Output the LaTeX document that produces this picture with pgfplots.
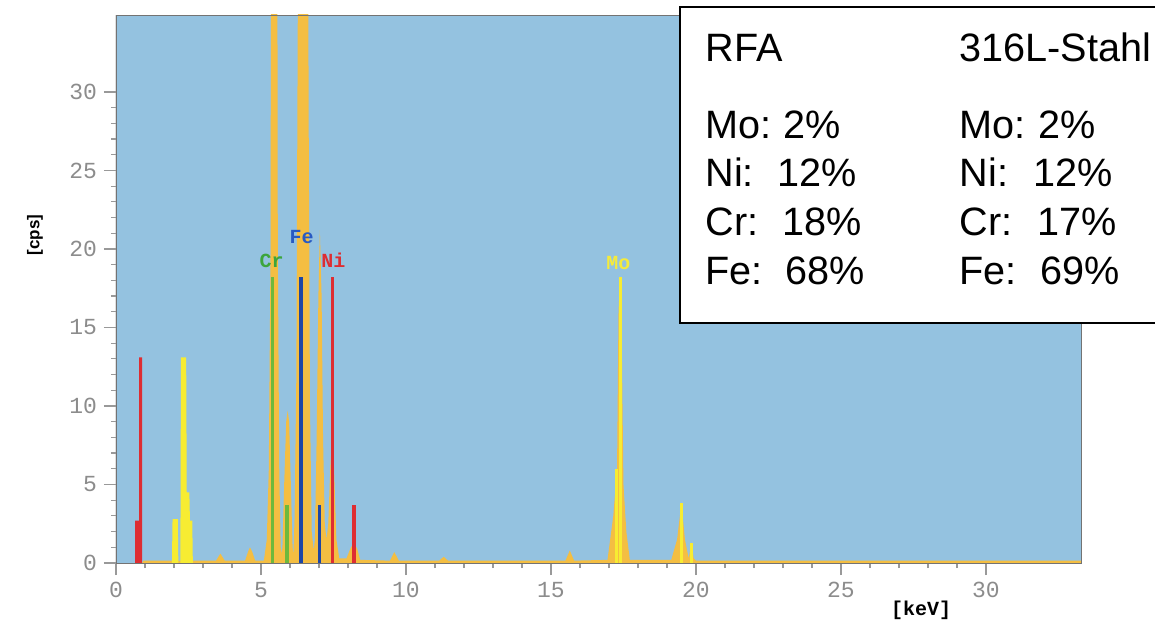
\documentclass[border=0pt]{standalone}
\usepackage{fontspec}
\usepackage{pgfplots}
\pgfplotsset{compat=1.18}
\setmainfont{Liberation Sans}
\newfontfamily\monof{Liberation Mono}

\definecolor{bgblue}{RGB}{148,194,224}
\definecolor{orangeC}{RGB}{244,190,66}
\definecolor{yellowC}{RGB}{247,236,50}
\definecolor{greenC}{RGB}{110,185,60}
\definecolor{blueC}{RGB}{30,70,165}
\definecolor{redC}{RGB}{222,45,50}

\begin{document}
\begin{tikzpicture}
\begin{axis}[
  scale only axis,
  width=482.5pt, height=274pt,
  xmin=0, xmax=33.28, ymin=0, ymax=34.9,
  axis background/.style={fill=bgblue},
  axis line style={draw=black!55},
  axis on top,
  xtick={0,5,...,30}, ytick={0,5,...,30},
  minor x tick num=4, minor y tick num=4,
  xtick pos=bottom, ytick pos=left,
  tick align=outside,
  major tick length=6pt, minor tick length=2.5pt,
  tick style={gray!80, line width=0.6pt},
  tick label style={font=\monof\fontsize{11.5}{12}\selectfont, text=gray!90},
  /pgf/number format/assume math mode=true,
]
% measured spectrum (orange)
\addplot[fill=orangeC, draw=none] coordinates {
(0,0)(0.9,0)(0.95,0.15)
(3.45,0.15)(3.6,0.6)(3.75,0.15)
(4.45,0.15)(4.55,0.7)(4.62,1.0)(4.7,0.7)(4.8,0.15)
(5.1,0.15)(5.2,1.5)(5.27,6)(5.33,20)(5.37,70)(5.54,70)(5.58,20)(5.63,6)(5.68,1.0)(5.71,0.6)
(5.74,1)(5.8,5)(5.87,9)(5.92,9.7)(5.97,9)(6.03,5)(6.09,1)(6.12,0.6)
(6.16,3)(6.22,12)(6.28,40)(6.31,80)(6.6,80)(6.64,30)(6.69,10)(6.75,2)(6.82,0.8)
(6.86,1.5)(6.92,8)(6.98,17)(7.03,21.2)(7.09,17)(7.14,8)(7.2,2.5)(7.26,1.5)
(7.32,2.5)(7.39,6)(7.45,8)(7.52,6)(7.6,1.5)(7.7,0.3)
(7.95,0.3)(8.08,0.9)(8.2,1.3)(8.32,0.9)(8.42,0.2)
(9.45,0.15)(9.6,0.7)(9.75,0.15)
(11.15,0.15)(11.3,0.4)(11.45,0.15)
(15.5,0.15)(15.65,0.8)(15.8,0.15)
(16.95,0.2)(17.15,3)(17.28,6)(17.33,16)(17.38,18)(17.43,16)(17.5,5)(17.6,2)(17.72,0.2)
(19.15,0.2)(19.35,1.5)(19.5,3.8)(19.62,1.5)(19.75,0.3)(19.85,1.3)(19.92,0.3)
(20.0,0.15)(33.28,0.15)(33.28,0)
} \closedcycle;
% Mo L lines
\addplot[fill=yellowC, draw=none] coordinates {
(1.93,0)(1.95,2.8)(2.13,2.8)(2.15,0)(2.22,0)(2.24,13.1)(2.42,13.1)(2.44,4.5)
(2.53,4.5)(2.55,2.7)(2.63,2.7)(2.65,0)
} \closedcycle;
% Ni L lines
\addplot[fill=redC, draw=none] coordinates {
(0.66,0)(0.66,2.7)(0.8,2.7)(0.8,13.1)(0.9,13.1)(0.9,0)
} \closedcycle;
% element K lines
\addplot[ycomb, greenC, line width=1.6pt, mark=none] coordinates {(5.40,18.2)(5.90,3.7)};
\addplot[ycomb, blueC, line width=1.6pt, mark=none] coordinates {(6.38,18.2)(7.01,3.7)};
\addplot[ycomb, redC, line width=1.6pt, mark=none] coordinates {(7.47,18.2)(8.21,3.7)};
\addplot[ycomb, yellowC, line width=1.6pt, mark=none] coordinates {(17.40,18.2)(17.27,6)(19.50,3.8)(19.85,1.3)};
\draw[black, line width=0.8pt] (rel axis cs:0,0) -- (rel axis cs:0,1);
\end{axis}

% 1 px of the reference = 0.5pt, origin at the top left corner of the page
\begin{scope}[shift={(-58pt,281.5pt)},x=0.5pt,y=-0.5pt]
% axis titles
\node[rotate=90, font=\bfseries\fontsize{8.5}{10}\selectfont] at (35,235) {[cps]};
\node[font=\monof\bfseries\fontsize{10}{12}\selectfont] at (921,610) {[keV]};
% element labels
\begin{scope}[every node/.style={font=\monof\bfseries\fontsize{10}{12}\selectfont, inner sep=0pt}]
\node[text={rgb,255:red,60;green,165;blue,60}] at (271.7,261) {Cr};
\node[text={rgb,255:red,40;green,90;blue,195}] at (301.7,236.7) {Fe};
\node[text=redC] at (333.3,260) {Ni};
\node[text={rgb,255:red,245;green,235;blue,60}] at (618.3,263.3) {Mo};
\end{scope}
% result box
\draw[line width=1.1pt, fill=white] (680,7) rectangle (1180,323);
\begin{scope}[every node/.style={font=\fontsize{19.8}{22}\selectfont, anchor=base west, inner sep=0pt}]
\node at (705,61.7) {RFA};
\node at (959.3,61.7) {316L-Stahl};
\node at (705,138.3) {Mo:};   \node at (783.3,138.3) {2\%};
\node at (705,186.7) {Ni:};   \node at (777.3,186.7) {12\%};
\node at (705,235) {Cr:};     \node at (781.7,235) {18\%};
\node at (705,284) {Fe:};     \node at (785,284) {68\%};
\node at (959.3,138.3) {Mo:}; \node at (1037.7,138.3) {2\%};
\node at (959.3,186.7) {Ni:}; \node at (1032.7,186.7) {12\%};
\node at (959.3,235) {Cr:};   \node at (1036.7,235) {17\%};
\node at (959.3,284) {Fe:};   \node at (1040,284) {69\%};
\end{scope}
\pgfresetboundingbox
\path[use as bounding box] (0,0) rectangle (1155,622);
\end{scope}
\end{tikzpicture}
\end{document}
